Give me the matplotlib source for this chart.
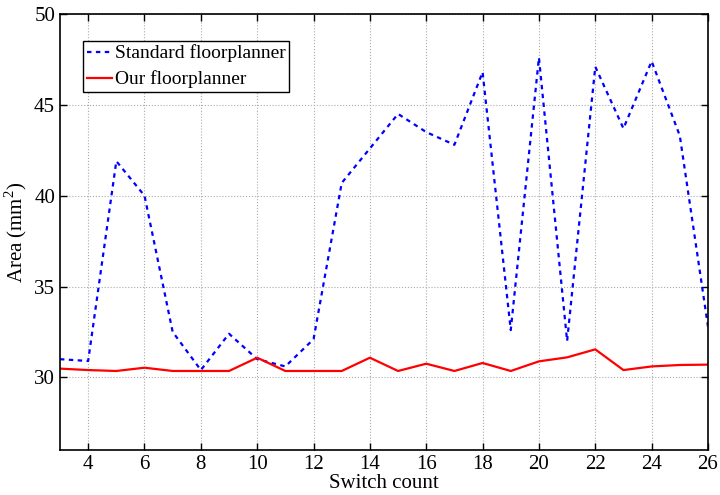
import matplotlib
matplotlib.use("Agg")
import matplotlib.pyplot as plt

switch_count = list(range(3, 27))
standard = [31.0, 30.9, 41.9, 40.0, 32.5, 30.4, 32.4, 31.0, 30.6, 32.1, 40.7, 42.6,
            44.5, 43.5, 42.8, 46.8, 32.6, 47.6, 32.0, 47.1, 43.7, 47.4, 43.3, 32.8]
ours = [30.48, 30.4, 30.35, 30.53, 30.35, 30.35, 30.35, 31.08, 30.35, 30.35, 30.35, 31.08,
        30.35, 30.75, 30.35, 30.79, 30.35, 30.88, 31.1, 31.54, 30.4, 30.6, 30.68, 30.7]
xticks = list(range(4, 27, 2))
yticks = [30, 35, 40, 45, 50]

plt.rcParams['font.family'] = ['Liberation Serif', 'DejaVu Serif']
plt.rcParams['mathtext.fontset'] = 'custom'
plt.rcParams['mathtext.rm'] = 'Liberation Serif'

fig = plt.figure(figsize=(7.2, 4.95), dpi=100)
ax = fig.add_axes([0.0833, 0.0909, 0.9, 0.8808])

ax.plot(switch_count, standard, color='blue', linestyle=(0, (2, 2)), linewidth=1.6,
        label='Standard floorplanner')
ax.plot(switch_count, ours, color='red', linestyle='-', linewidth=1.6,
        label='Our floorplanner')

ax.set_xlim(3, 26)
ax.set_ylim(26, 50)
ax.set_xticks(xticks)
ax.set_yticks(yticks)
ax.tick_params(direction='in', top=True, right=True, labelsize=15, length=5, width=1)
ax.grid(True, linestyle=':', color='#aaaaaa', linewidth=0.8)
for s in ax.spines.values():
    s.set_linewidth(1.2)

ax.set_xlabel('Switch count', fontsize=15, labelpad=0)
ax.set_ylabel('Area (mm$^2$)', fontsize=15, labelpad=4)

leg = ax.legend(loc='upper left', bbox_to_anchor=(0.035, 0.939), borderaxespad=0,
                fontsize=14, fancybox=False, edgecolor='black', framealpha=1,
                handlelength=1.3, handletextpad=0.15, borderpad=0.2, labelspacing=0.42)
leg.get_frame().set_linewidth(1.0)

fig.savefig('out.png', dpi=100)
